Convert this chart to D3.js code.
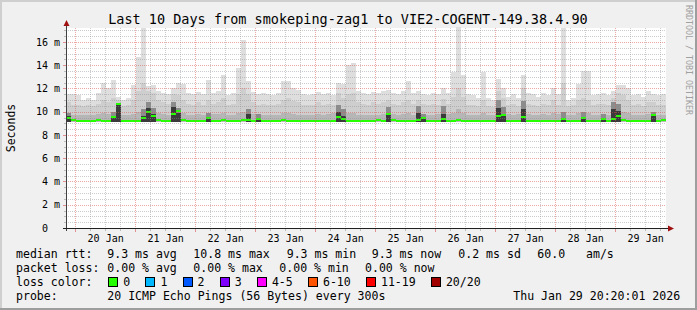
<!DOCTYPE html>
<html>
<head>
<meta charset="utf-8">
<script src="https://cdn.jsdelivr.net/npm/d3@7"></script>
<style>
body { margin: 0; background: #f0f0f0; }
svg { display: block; font-family: "DejaVu Sans Mono", monospace; }
</style>
</head>
<body>
<div id="chart"></div>
<script>
var W = 697, H = 310;

// time window, one smoke column per 2 hours
var start = new Date(Date.UTC(2026, 0, 19, 20, 20, 1));
var end = new Date(Date.UTC(2026, 0, 29, 20, 20, 1));
var stepHours = 2;

// smoke, values in ms
var minMs = 9.1;
var topMs = [
  11.5, 11.5, 11.4, 11.0, 11.2, 11.0, 11.6, 12.5, 12.0, 12.75,
  11.3, 11.0, 11.2, 12.3, 14.7, 17.2, 12.2, 12.3, 11.8, 11.6,
  11.5, 12.0, 12.5, 12.4, 11.6, 11.5, 11.7, 11.5, 12.75, 11.6,
  11.8, 13.2, 11.4, 11.6, 13.8, 16.2, 12.6, 11.7, 11.5, 11.6,
  11.5, 11.4, 11.6, 12.6, 12.6, 12.0, 11.9, 11.5, 11.4, 11.5,
  11.7, 11.5, 11.6, 11.4, 12.5, 12.4, 14.0, 14.2, 11.8, 11.6,
  11.5, 11.7, 11.6, 11.8, 11.9, 11.6, 11.5, 11.8, 12.6, 11.6,
  11.8, 11.5, 11.4, 11.6, 11.5, 12.0, 11.6, 13.4, 17.3, 13.2,
  11.5, 11.4, 11.2, 13.4, 11.2, 11.0, 12.8, 12.0, 11.3, 11.5,
  11.2, 13.2, 11.6, 11.5, 11.3, 11.6, 11.4, 12.0, 11.5, 17.2,
  11.0, 11.2, 12.4, 13.5, 13.5, 11.4, 11.5, 11.6, 11.4, 11.8,
  12.3, 12.3, 12.0, 11.4, 11.5, 11.3, 11.8, 11.5, 11.4, 11.5
];
var midMs = [
  10.8, 10.6, 10.6, 10.5, 10.6, 10.5, 10.7, 11.0, 10.8, 11.2,
  11.0, 10.5, 10.6, 11.0, 11.8, 12.5, 11.8, 11.6, 11.0, 10.8,
  10.7, 11.5, 11.4, 11.0, 10.7, 10.6, 10.8, 10.6, 11.0, 10.7,
  10.8, 11.2, 10.6, 10.7, 11.5, 12.0, 11.5, 10.8, 10.6, 10.7,
  10.6, 10.6, 10.7, 11.0, 11.2, 10.9, 10.8, 10.6, 10.6, 10.6,
  10.8, 10.6, 10.7, 10.6, 11.6, 11.2, 11.5, 11.6, 10.8, 10.7,
  10.6, 10.8, 10.7, 10.8, 11.0, 10.7, 10.6, 10.8, 11.0, 10.7,
  11.0, 10.7, 10.6, 10.7, 10.6, 11.1, 10.7, 11.3, 12.0, 11.3,
  10.6, 10.6, 10.5, 11.0, 10.5, 10.4, 11.8, 11.2, 10.6, 10.7,
  10.5, 12.0, 10.7, 10.6, 10.5, 10.7, 10.6, 11.0, 10.6, 12.5,
  10.5, 10.6, 11.0, 11.2, 11.0, 10.6, 10.7, 10.7, 10.6, 11.2,
  11.6, 11.4, 11.0, 10.6, 10.7, 10.5, 10.8, 10.8, 10.6, 10.6
];
var coreMs = [
  9.9, 9.75, 9.7, 9.7, 9.75, 9.7, 9.8, 9.9, 9.8, 10.0,
  10.4, 9.7, 9.75, 9.8, 10.0, 10.2, 10.8, 10.3, 9.9, 9.8,
  9.75, 10.8, 10.3, 9.9, 9.75, 9.7, 9.8, 9.75, 9.9, 9.8,
  9.8, 9.9, 9.7, 9.75, 9.9, 10.0, 10.2, 9.8, 9.8, 9.75,
  9.7, 9.7, 9.75, 9.9, 9.9, 9.8, 9.75, 9.7, 9.7, 9.75,
  9.8, 9.75, 9.8, 9.9, 10.6, 10.2, 9.9, 9.9, 9.75, 9.7,
  9.7, 9.75, 9.75, 9.8, 10.4, 9.8, 9.7, 9.8, 9.9, 9.75,
  10.5, 9.8, 9.7, 9.75, 9.8, 10.5, 9.8, 9.9, 10.2, 9.9,
  9.75, 9.7, 9.7, 9.9, 9.7, 9.7, 11.0, 10.4, 9.8, 9.75,
  9.8, 10.9, 9.8, 9.75, 9.7, 9.8, 9.75, 9.9, 9.8, 10.0,
  9.7, 9.75, 9.9, 10.0, 9.9, 9.75, 9.75, 9.8, 9.75, 10.8,
  10.7, 10.0, 9.9, 9.75, 9.75, 9.7, 9.8, 10.0, 9.75, 9.7
];
// top of the near-black smoke, 0 where there is none
var darkMs = [
  9.6, 0, 0, 0, 0, 0, 0, 0, 0, 9.5,
  10.7, 0, 0, 0, 0, 9.6, 10.3, 9.8, 0, 0,
  0, 10.4, 9.9, 0, 0, 0, 0, 0, 9.5, 0,
  0, 0, 0, 0, 0, 0, 9.8, 0, 9.5, 0,
  0, 0, 0, 0, 0, 0, 0, 0, 0, 0,
  0, 0, 0, 0, 10.0, 9.6, 0, 0, 0, 0,
  0, 0, 0, 0, 9.9, 0, 0, 0, 0, 0,
  9.9, 9.5, 0, 0, 0, 9.8, 0, 0, 0, 0,
  0, 0, 0, 0, 0, 0, 10.3, 9.8, 0, 0,
  0, 10.2, 0, 0, 0, 0, 0, 0, 0, 9.5,
  0, 0, 0, 9.5, 0, 0, 0, 9.4, 0, 10.2,
  10.1, 0, 0, 0, 0, 0, 0, 9.7, 0, 0
];
var medianMs = [
  9.5, 9.25, 9.22, 9.22, 9.22, 9.22, 9.25, 9.22, 9.22, 9.55,
  10.7, 9.22, 9.22, 9.22, 9.22, 9.5, 10.0, 9.6, 9.25, 9.22,
  9.22, 9.8, 10.05, 9.3, 9.22, 9.22, 9.22, 9.22, 9.45, 9.22,
  9.22, 9.25, 9.22, 9.22, 9.22, 9.25, 9.3, 9.22, 9.4, 9.22,
  9.22, 9.22, 9.22, 9.25, 9.22, 9.22, 9.22, 9.22, 9.22, 9.22,
  9.22, 9.22, 9.22, 9.22, 9.55, 9.35, 9.22, 9.22, 9.22, 9.22,
  9.22, 9.22, 9.25, 9.22, 9.8, 9.25, 9.22, 9.22, 9.22, 9.22,
  9.3, 9.45, 9.22, 9.22, 9.22, 9.4, 9.22, 9.22, 9.25, 9.22,
  9.22, 9.22, 9.22, 9.22, 9.22, 9.22, 9.6, 9.75, 9.22, 9.22,
  9.22, 9.55, 9.22, 9.22, 9.22, 9.22, 9.22, 9.22, 9.22, 9.35,
  9.22, 9.22, 9.22, 9.5, 9.22, 9.22, 9.22, 9.35, 9.22, 9.4,
  9.6, 9.25, 9.22, 9.22, 9.22, 9.22, 9.22, 9.7, 9.22, 9.3
];

var yTicks = [0, 2, 4, 6, 8, 10, 12, 14, 16];
var yTickLabels = ["0", "2 m", "4 m", "6 m", "8 m", "10 m", "12 m", "14 m", "16 m"];
var dayLabels = ["20 Jan", "21 Jan", "22 Jan", "23 Jan", "24 Jan", "25 Jan", "26 Jan", "27 Jan", "28 Jan", "29 Jan"];

var title = "Last 10 Days from smokeping-zag1 to VIE2-COGENT-149.38.4.90";
var rttStats = ["9.3 ms avg", "10.8 ms max", "9.3 ms min", "9.3 ms now", "0.2 ms sd", "60.0", "am/s"];
var lossStats = ["0.00 % avg", "0.00 % max", "0.00 % min", "0.00 % now"];
var lossLabels = ["0", "1", "2", "3", "4-5", "6-10", "11-19", "20/20"];
var lossColors = ["#26ff00", "#00b8ff", "#0059ff", "#7e00ff", "#ff00ff", "#ff5500", "#ff0000", "#a10000"];
var probeText = "20 ICMP Echo Pings (56 Bytes) every 300s";
var stampText = "Thu Jan 29 20:20:01 2026";


var x = d3.scaleUtc().domain([start, end]).range([66, 666]);
var y = d3.scaleLinear().domain([0, 17.2]).range([228, 28]);

var svg = d3.select("#chart").append("svg")
    .attr("width", W)
    .attr("height", H);

// frame
svg.append("rect").attr("width", W).attr("height", H).attr("fill", "#f0f0f0");
svg.append("path").attr("d", "M0,0H697V2H0Z M0,0H2V310H0Z").attr("fill", "#cfcfcf");
svg.append("path").attr("d", "M695,0H697V310H695Z M0,308H697V310H0Z").attr("fill", "#9e9e9e");

svg.append("rect")
    .attr("x", 66).attr("y", 28)
    .attr("width", 600).attr("height", 200)
    .attr("fill", "#ffffff");

// smoke columns
var cols = d3.range(topMs.length).map(function(i) {
    return {
        t0: d3.utcHour.offset(start, i * stepHours),
        t1: d3.utcHour.offset(start, (i + 1) * stepHours),
        top: topMs[i], mid: midMs[i], core: coreMs[i], dark: darkMs[i], med: medianMs[i]
    };
});

var smoke = svg.append("g").attr("shape-rendering", "crispEdges");

function layer(key, color) {
    smoke.selectAll(null)
        .data(cols.filter(function(d) { return d[key] > 0; }))
        .enter()
        .append("rect")
        .attr("x", function(d) { return x(d.t0); })
        .attr("width", function(d) { return x(d.t1) - x(d.t0); })
        .attr("y", function(d) { return y(d[key]); })
        .attr("height", function(d) { return y(minMs) - y(d[key]); })
        .attr("fill", typeof color === "function" ? color : function() { return color; });
}
layer("top", "#dedede");
layer("mid", "#cecece");
layer("core", function(d) { return d.dark > 0 ? "#8c8c8c" : "#b6b6b6"; });
layer("dark", "#3a3a3a");

// median, 0 % loss colour
smoke.selectAll(null)
    .data(cols)
    .enter()
    .append("rect")
    .attr("x", function(d) { return x(d.t0); })
    .attr("width", function(d) { return x(d.t1) - x(d.t0); })
    .attr("y", function(d) { return y(d.med) - 1; })
    .attr("height", 2)
    .attr("fill", lossColors[0]);

// grid
var grid = svg.append("g").attr("shape-rendering", "crispEdges").attr("stroke-dasharray", "1,1");
var minorY = d3.range(0.5, 17.2, 0.5).filter(function(v) { return v % 2 !== 0; });
var majorY = yTicks.filter(function(v) { return v > 0; });
var sixHours = d3.utcHour.every(6).range(start, end);
var minorX = sixHours.filter(function(t) { return t.getUTCHours() !== 0; });
var majorX = d3.utcDay.range(start, end);

grid.selectAll(null).data(minorY).enter().append("line")
    .attr("x1", 66).attr("x2", 666)
    .attr("y1", function(d) { return Math.round(y(d)) + 0.5; })
    .attr("y2", function(d) { return Math.round(y(d)) + 0.5; })
    .attr("stroke", "rgba(143,143,143,0.45)");
grid.selectAll(null).data(minorX).enter().append("line")
    .attr("y1", 28).attr("y2", 228)
    .attr("x1", function(d) { return Math.round(x(d)) + 0.5; })
    .attr("x2", function(d) { return Math.round(x(d)) + 0.5; })
    .attr("stroke", "rgba(143,143,143,0.45)");
grid.selectAll(null).data(majorY).enter().append("line")
    .attr("x1", 66).attr("x2", 666)
    .attr("y1", function(d) { return Math.round(y(d)) + 0.5; })
    .attr("y2", function(d) { return Math.round(y(d)) + 0.5; })
    .attr("stroke", "rgba(222,80,80,0.5)");
grid.selectAll(null).data(majorX).enter().append("line")
    .attr("y1", 28).attr("y2", 228)
    .attr("x1", function(d) { return Math.round(x(d)) + 0.5; })
    .attr("x2", function(d) { return Math.round(x(d)) + 0.5; })
    .attr("stroke", "rgba(222,80,80,0.5)");

// small tick marks outside the canvas
var ticks = svg.append("g").attr("shape-rendering", "crispEdges");
ticks.selectAll(null).data(minorY).enter().append("line")
    .attr("x1", 64).attr("x2", 66)
    .attr("y1", function(d) { return Math.round(y(d)) + 0.5; })
    .attr("y2", function(d) { return Math.round(y(d)) + 0.5; })
    .attr("stroke", "#bbbbbb");
ticks.selectAll(null).data(majorY).enter().append("line")
    .attr("x1", 63).attr("x2", 66)
    .attr("y1", function(d) { return Math.round(y(d)) + 0.5; })
    .attr("y2", function(d) { return Math.round(y(d)) + 0.5; })
    .attr("stroke", "#e09090");
ticks.selectAll(null).data(minorX).enter().append("line")
    .attr("y1", 229).attr("y2", 231)
    .attr("x1", function(d) { return Math.round(x(d)) + 0.5; })
    .attr("x2", function(d) { return Math.round(x(d)) + 0.5; })
    .attr("stroke", "#bbbbbb");
ticks.selectAll(null).data(majorX).enter().append("line")
    .attr("y1", 229).attr("y2", 232)
    .attr("x1", function(d) { return Math.round(x(d)) + 0.5; })
    .attr("x2", function(d) { return Math.round(x(d)) + 0.5; })
    .attr("stroke", "#e09090");

// axis labels
var yAxis = d3.axisLeft(y)
    .tickValues(yTicks)
    .tickSize(0)
    .tickPadding(6)
    .tickFormat(function(d, i) { return yTickLabels[i]; });
var gy = svg.append("g").attr("transform", "translate(66,0)").call(yAxis);
gy.select(".domain").remove();
gy.selectAll("text")
    .attr("font-family", "DejaVu Sans Mono")
    .attr("font-size", 10)
    .attr("fill", "#000")
    .attr("dx", function(d) { return d === 0 ? -12 : 0; });

var noons = majorX.map(function(d) { return d3.utcHour.offset(d, 12); });
var xAxis = d3.axisBottom(x)
    .tickValues(noons)
    .tickSize(0)
    .tickPadding(6.4)
    .tickFormat(function(d, i) { return dayLabels[i]; });
var gx = svg.append("g").attr("transform", "translate(0,228)").call(xAxis);
gx.select(".domain").remove();
gx.selectAll("text")
    .attr("font-family", "DejaVu Sans Mono")
    .attr("font-size", 10)
    .attr("fill", "#000");

// axis lines and arrows
var axis = svg.append("g").attr("shape-rendering", "crispEdges");
axis.append("line").attr("x1", 66.5).attr("x2", 66.5).attr("y1", 231).attr("y2", 24)
    .attr("stroke", "#404040");
axis.append("line").attr("x1", 63).attr("x2", 669).attr("y1", 228.5).attr("y2", 228.5)
    .attr("stroke", "#202020");
svg.append("path").attr("d", "M66.5,20L63.5,26L69.5,26Z").attr("fill", "#a01010");
svg.append("path").attr("d", "M674,228.5L668,225.5L668,231.5Z").attr("fill", "#a01010");

// title, unit label, watermark
svg.append("text")
    .attr("x", 348).attr("y", 24)
    .attr("text-anchor", "middle")
    .attr("font-size", 13.5)
    .text(title);

svg.append("text")
    .attr("transform", "translate(15,128) rotate(-90)")
    .attr("text-anchor", "middle")
    .attr("font-size", 11.5)
    .text("Seconds");

svg.append("text")
    .attr("transform", "translate(686,5) rotate(90)")
    .attr("font-size", 8.3)
    .attr("fill", "#a0a0a0")
    .text("RRDTOOL / TOBI OETIKER");

// legend
var legend = svg.append("g").attr("font-size", 11.55).attr("fill", "#000");
var rowY = [257.5, 271.5, 285.5, 299.5];
var rttX = [107.3, 193.3, 286.7, 371.7, 458.3, 537.3, 586];
var lossX = [107.3, 193.3, 279.3, 365];

legend.append("text").attr("x", 16).attr("y", rowY[0]).text("median rtt:");
legend.selectAll(null).data(rttStats).enter().append("text")
    .attr("x", function(d, i) { return rttX[i]; })
    .attr("y", rowY[0])
    .text(function(d) { return d; });

legend.append("text").attr("x", 16).attr("y", rowY[1]).text("packet loss:");
legend.selectAll(null).data(lossStats).enter().append("text")
    .attr("x", function(d, i) { return lossX[i]; })
    .attr("y", rowY[1])
    .text(function(d) { return d; });

legend.append("text").attr("x", 16).attr("y", rowY[2]).text("loss color:");
var charW = 6.95, bx = 108.3;
lossLabels.forEach(function(lab, i) {
    legend.append("rect")
        .attr("x", Math.round(bx) + 0.5).attr("y", 277.5)
        .attr("width", 9).attr("height", 9)
        .attr("fill", lossColors[i])
        .attr("stroke", "#000");
    legend.append("text").attr("x", bx + 15).attr("y", rowY[2]).text(lab);
    bx = bx + 15 + lab.length * charW + 15.2;
});

legend.append("text").attr("x", 16).attr("y", rowY[3]).text("probe:");
legend.append("text").attr("x", 107.3).attr("y", rowY[3]).text(probeText);
legend.append("text").attr("x", 513.3).attr("y", rowY[3]).text(stampText);
</script>
</body>
</html>
